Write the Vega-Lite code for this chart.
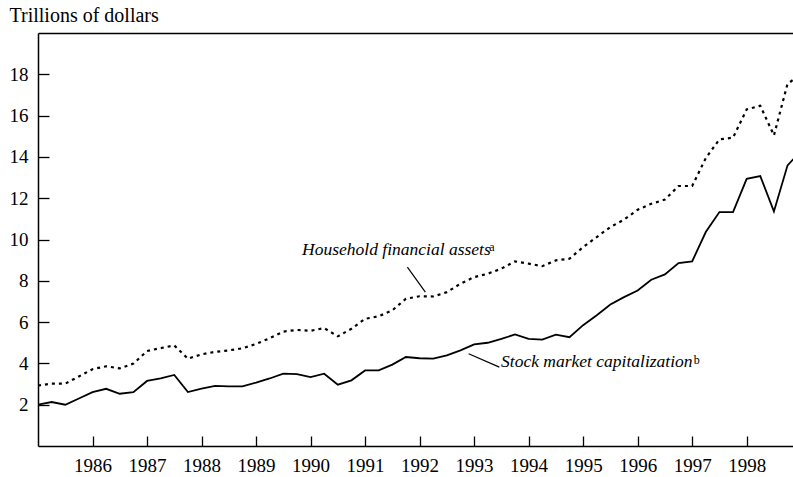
{
  "$schema": "https://vega.github.io/schema/vega-lite/v6.json",
  "width": 755,
  "height": 413,
  "autosize": {"type": "none"},
  "padding": {"left": 38, "top": 33, "right": 0, "bottom": 31},
  "background": "white",
  "config": {
    "font": "Liberation Serif",
    "view": {"stroke": null},
    "axis": {"domainColor": "black", "tickColor": "black", "labelColor": "black", "titleColor": "black", "grid": false, "domainWidth": 1.5, "tickWidth": 1.3}
  },
  "resolve": {"axis": {"x": "independent", "y": "independent"}},
  "datasets": {
    "series": [
      {"year": 1985.0, "series": "Stock", "value": 2.0},
      {"year": 1985.25, "series": "Stock", "value": 2.13},
      {"year": 1985.5, "series": "Stock", "value": 2.0},
      {"year": 1985.75, "series": "Stock", "value": 2.3},
      {"year": 1986.0, "series": "Stock", "value": 2.61},
      {"year": 1986.25, "series": "Stock", "value": 2.77},
      {"year": 1986.5, "series": "Stock", "value": 2.53},
      {"year": 1986.75, "series": "Stock", "value": 2.61},
      {"year": 1987.0, "series": "Stock", "value": 3.15},
      {"year": 1987.25, "series": "Stock", "value": 3.27},
      {"year": 1987.5, "series": "Stock", "value": 3.44},
      {"year": 1987.75, "series": "Stock", "value": 2.61},
      {"year": 1988.0, "series": "Stock", "value": 2.78},
      {"year": 1988.25, "series": "Stock", "value": 2.91},
      {"year": 1988.5, "series": "Stock", "value": 2.89},
      {"year": 1988.75, "series": "Stock", "value": 2.89},
      {"year": 1989.0, "series": "Stock", "value": 3.07},
      {"year": 1989.25, "series": "Stock", "value": 3.27},
      {"year": 1989.5, "series": "Stock", "value": 3.5},
      {"year": 1989.75, "series": "Stock", "value": 3.48},
      {"year": 1990.0, "series": "Stock", "value": 3.34},
      {"year": 1990.25, "series": "Stock", "value": 3.5},
      {"year": 1990.5, "series": "Stock", "value": 2.97},
      {"year": 1990.75, "series": "Stock", "value": 3.18},
      {"year": 1991.0, "series": "Stock", "value": 3.66},
      {"year": 1991.25, "series": "Stock", "value": 3.66},
      {"year": 1991.5, "series": "Stock", "value": 3.94},
      {"year": 1991.75, "series": "Stock", "value": 4.31},
      {"year": 1992.0, "series": "Stock", "value": 4.25},
      {"year": 1992.25, "series": "Stock", "value": 4.23},
      {"year": 1992.5, "series": "Stock", "value": 4.39},
      {"year": 1992.75, "series": "Stock", "value": 4.63},
      {"year": 1993.0, "series": "Stock", "value": 4.92},
      {"year": 1993.25, "series": "Stock", "value": 5.0},
      {"year": 1993.5, "series": "Stock", "value": 5.19},
      {"year": 1993.75, "series": "Stock", "value": 5.4},
      {"year": 1994.0, "series": "Stock", "value": 5.19},
      {"year": 1994.25, "series": "Stock", "value": 5.15},
      {"year": 1994.5, "series": "Stock", "value": 5.39},
      {"year": 1994.75, "series": "Stock", "value": 5.27},
      {"year": 1995.0, "series": "Stock", "value": 5.85},
      {"year": 1995.25, "series": "Stock", "value": 6.33},
      {"year": 1995.5, "series": "Stock", "value": 6.85},
      {"year": 1995.75, "series": "Stock", "value": 7.21},
      {"year": 1996.0, "series": "Stock", "value": 7.53},
      {"year": 1996.25, "series": "Stock", "value": 8.05},
      {"year": 1996.5, "series": "Stock", "value": 8.31},
      {"year": 1996.75, "series": "Stock", "value": 8.86},
      {"year": 1997.0, "series": "Stock", "value": 8.94},
      {"year": 1997.25, "series": "Stock", "value": 10.36},
      {"year": 1997.5, "series": "Stock", "value": 11.33},
      {"year": 1997.75, "series": "Stock", "value": 11.33},
      {"year": 1998.0, "series": "Stock", "value": 12.94},
      {"year": 1998.25, "series": "Stock", "value": 13.07},
      {"year": 1998.5, "series": "Stock", "value": 11.36},
      {"year": 1998.75, "series": "Stock", "value": 13.59},
      {"year": 1999.0, "series": "Stock", "value": 14.3},
      {"year": 1985.0, "series": "Household", "value": 2.93},
      {"year": 1985.25, "series": "Household", "value": 3.02},
      {"year": 1985.5, "series": "Household", "value": 3.02},
      {"year": 1985.75, "series": "Household", "value": 3.37},
      {"year": 1986.0, "series": "Household", "value": 3.72},
      {"year": 1986.25, "series": "Household", "value": 3.86},
      {"year": 1986.5, "series": "Household", "value": 3.76},
      {"year": 1986.75, "series": "Household", "value": 3.99},
      {"year": 1987.0, "series": "Household", "value": 4.6},
      {"year": 1987.25, "series": "Household", "value": 4.74},
      {"year": 1987.5, "series": "Household", "value": 4.87},
      {"year": 1987.75, "series": "Household", "value": 4.23},
      {"year": 1988.0, "series": "Household", "value": 4.44},
      {"year": 1988.25, "series": "Household", "value": 4.56},
      {"year": 1988.5, "series": "Household", "value": 4.63},
      {"year": 1988.75, "series": "Household", "value": 4.73},
      {"year": 1989.0, "series": "Household", "value": 4.94},
      {"year": 1989.25, "series": "Household", "value": 5.22},
      {"year": 1989.5, "series": "Household", "value": 5.54},
      {"year": 1989.75, "series": "Household", "value": 5.62},
      {"year": 1990.0, "series": "Household", "value": 5.58},
      {"year": 1990.25, "series": "Household", "value": 5.71},
      {"year": 1990.5, "series": "Household", "value": 5.31},
      {"year": 1990.75, "series": "Household", "value": 5.68},
      {"year": 1991.0, "series": "Household", "value": 6.16},
      {"year": 1991.25, "series": "Household", "value": 6.28},
      {"year": 1991.5, "series": "Household", "value": 6.57},
      {"year": 1991.75, "series": "Household", "value": 7.13},
      {"year": 1992.0, "series": "Household", "value": 7.25},
      {"year": 1992.25, "series": "Household", "value": 7.24},
      {"year": 1992.5, "series": "Household", "value": 7.45},
      {"year": 1992.75, "series": "Household", "value": 7.86},
      {"year": 1993.0, "series": "Household", "value": 8.18},
      {"year": 1993.25, "series": "Household", "value": 8.34},
      {"year": 1993.5, "series": "Household", "value": 8.59},
      {"year": 1993.75, "series": "Household", "value": 8.94},
      {"year": 1994.0, "series": "Household", "value": 8.83},
      {"year": 1994.25, "series": "Household", "value": 8.71},
      {"year": 1994.5, "series": "Household", "value": 8.99},
      {"year": 1994.75, "series": "Household", "value": 9.07},
      {"year": 1995.0, "series": "Household", "value": 9.63},
      {"year": 1995.25, "series": "Household", "value": 10.12},
      {"year": 1995.5, "series": "Household", "value": 10.6},
      {"year": 1995.75, "series": "Household", "value": 10.96},
      {"year": 1996.0, "series": "Household", "value": 11.44},
      {"year": 1996.25, "series": "Household", "value": 11.73},
      {"year": 1996.5, "series": "Household", "value": 11.93},
      {"year": 1996.75, "series": "Household", "value": 12.59},
      {"year": 1997.0, "series": "Household", "value": 12.59},
      {"year": 1997.25, "series": "Household", "value": 13.94},
      {"year": 1997.5, "series": "Household", "value": 14.85},
      {"year": 1997.75, "series": "Household", "value": 14.93},
      {"year": 1998.0, "series": "Household", "value": 16.3},
      {"year": 1998.25, "series": "Household", "value": 16.48},
      {"year": 1998.5, "series": "Household", "value": 15.04},
      {"year": 1998.75, "series": "Household", "value": 17.54},
      {"year": 1999.0, "series": "Household", "value": 18.0}
    ],
    "labels": [
      {"year": 1989.845, "value": 9.23, "text": "Household financial assets", "kind": "main"},
      {"year": 1993.28, "value": 9.45, "text": "a", "kind": "sup"},
      {"year": 1993.494, "value": 3.81, "text": "Stock market capitalization", "kind": "main"},
      {"year": 1997.03, "value": 3.98, "text": "b", "kind": "sup"}
    ],
    "leaders": [
      {"year": 1991.776, "value": 8.66, "year2": 1992.106, "value2": 7.45},
      {"year": 1992.9, "value": 4.47, "year2": 1993.463, "value2": 3.82}
    ]
  },
  "layer": [
    {
      "data": {"name": "series"},
      "transform": [{"filter": "datum.series === 'Stock'"}],
      "mark": {"type": "line", "color": "black", "strokeWidth": 1.8, "clip": true},
      "encoding": {
        "x": {"field": "year", "type": "quantitative", "scale": {"domain": [1985, 1998.85], "nice": false, "zero": false},
          "axis": {"orient": "bottom", "values": [1986, 1987, 1988, 1989, 1990, 1991, 1992, 1993, 1994, 1995, 1996, 1997, 1998], "format": "d", "title": null, "tickSize": -10, "labelFontSize": 19, "labelBaseline": "alphabetic", "labelPadding": 35, "labelFlush": false}},
        "y": {"field": "value", "type": "quantitative", "scale": {"domain": [0, 20], "nice": false},
          "axis": {"values": [2, 4, 6, 8, 10, 12, 14, 16, 18], "title": "Trillions of dollars", "titleAngle": 0, "titleAlign": "left", "titleBaseline": "alphabetic", "titleX": -29, "titleY": -12, "titleFontSize": 20, "titleFontWeight": "normal", "tickSize": -11, "labelFontSize": 19, "labelPadding": 21}}
      }
    },
    {
      "data": {"name": "series"},
      "transform": [{"filter": "datum.series === 'Household'"}],
      "mark": {"type": "line", "color": "black", "strokeWidth": 2.2, "strokeDash": [3, 4], "clip": true},
      "encoding": {
        "x": {"field": "year", "type": "quantitative", "axis": {"orient": "top", "labels": false, "ticks": false, "title": null, "domainWidth": 1.5}},
        "y": {"field": "value", "type": "quantitative", "axis": null}
      }
    },
    {
      "data": {"name": "leaders"},
      "mark": {"type": "rule", "color": "black", "strokeWidth": 1.2},
      "encoding": {
        "x": {"field": "year", "type": "quantitative", "axis": null},
        "y": {"field": "value", "type": "quantitative", "axis": null},
        "x2": {"field": "year2"},
        "y2": {"field": "value2"}
      }
    },
    {
      "data": {"name": "labels"},
      "transform": [{"filter": "datum.kind === 'main'"}],
      "mark": {"type": "text", "align": "left", "baseline": "alphabetic", "fontStyle": "italic", "fontSize": 17.5, "color": "black"},
      "encoding": {
        "x": {"field": "year", "type": "quantitative", "axis": null},
        "y": {"field": "value", "type": "quantitative", "axis": null},
        "text": {"field": "text"}
      }
    },
    {
      "data": {"name": "labels"},
      "transform": [{"filter": "datum.kind === 'sup'"}],
      "mark": {"type": "text", "align": "left", "baseline": "alphabetic", "fontSize": 12, "color": "black"},
      "encoding": {
        "x": {"field": "year", "type": "quantitative", "axis": null},
        "y": {"field": "value", "type": "quantitative", "axis": null},
        "text": {"field": "text"}
      }
    }
  ]
}
